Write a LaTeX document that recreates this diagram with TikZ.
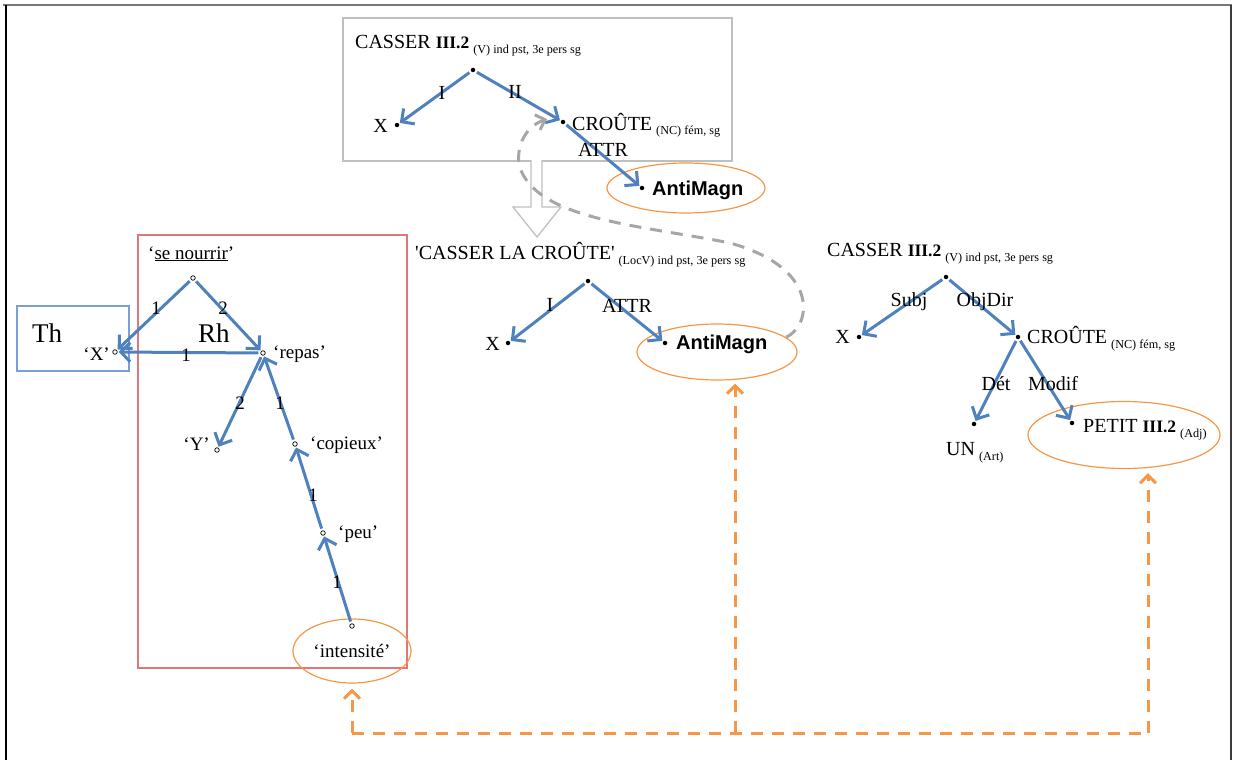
\documentclass[tikz,border=0pt]{standalone}
\usepackage{fontspec}
\setmainfont{Liberation Serif}
\newfontfamily\antisans{Liberation Sans}
\usetikzlibrary{arrows.meta,shapes.geometric}
\definecolor{arrblue}{RGB}{79,129,189}
\definecolor{ornge}{RGB}{247,150,70}
\definecolor{grdash}{RGB}{166,166,166}
\definecolor{boxgray}{RGB}{191,191,191}
\definecolor{thblue}{RGB}{120,160,215}
\definecolor{rhred}{RGB}{222,120,120}
\newcommand\mysub[1]{\hspace{4pt}\raisebox{-5pt}{\fontsize{12.2}{13}\selectfont #1}}
\newcommand\rom[1]{{\fontsize{17.5}{20}\selectfont\bfseries #1}}
\begin{document}
\begin{tikzpicture}[x=1pt,y=-1pt,
 every node/.style={font=\fontsize{20}{24}\selectfont, inner sep=0pt},
 txt/.style={anchor=base west},
 txte/.style={anchor=base east},
 lbl/.style={anchor=center},
 lft/.style={font=\fontsize{19}{22}\selectfont},
 big/.style={font=\fontsize{27}{30}\selectfont},
 sansb/.style={font=\antisans\bfseries\fontsize{20}{24}\selectfont},
 dotn/.style={circle,fill=black,minimum size=4.5pt,inner sep=0pt},
 odot/.style={circle,draw=black,line width=0.7pt,minimum size=4.5pt,inner sep=0pt,fill=white},
 barrow/.style={draw=arrblue,line width=3pt,-{Straight Barb[length=9.5pt,width=19pt]},shorten <=2pt,shorten >=1pt},
 oell/.style={ellipse,draw=ornge,line width=1.2pt},
 odash/.style={draw=ornge,line width=3pt,dash pattern=on 12pt off 9pt},
 gdash/.style={draw=grdash,line width=3pt,dash pattern=on 12pt off 9pt},
 otip/.style={-{Straight Barb[length=8pt,width=16pt]}},
]
\useasboundingbox (0,0) rectangle (1235,760);
% outer frame
\draw[draw={rgb,255:red,120;green,120;blue,120},line width=2pt] (3,5) -- (1232,5);
\draw[draw=black,line width=2pt] (6,5) -- (6,760);
\draw[draw={rgb,255:red,60;green,60;blue,60},line width=2pt] (1231,5) -- (1231,760);

% ---------- top tree ----------
\draw[boxgray,line width=1.5pt] (343,18) rectangle (732,161);
% hollow arrow
\fill[white] (531.5,156) rectangle (541.5,165);
\draw[boxgray,line width=1.3pt,fill=white] (531,160) -- (531,207) -- (513,207) -- (537,237) -- (561,207) -- (542,207) -- (542,160);

\node[dotn] (t0) at (473,70) {};
\node[dotn] (tx) at (397,125) {};
\node[dotn] (tc) at (563,122) {};
\node[dotn] (ta) at (642,188) {};
\node[txt] (tcasser) at (355,49) {CASSER \rom{III.2}\mysub{(V) ind pst, 3e pers sg}};
\node[txte] (txl) at (388,132) {X};
\node[txt] (tcl) at (572,130) {CROÛTE\mysub{(NC) fém, sg}};
\node[oell,minimum width=158pt,minimum height=50pt] (tell) at (686,188) {};
\node[txt,sansb] (tal) at (652,195) {AntiMagn};
\draw[barrow] (t0) -- (tx);
\draw[barrow] (t0) -- (tc);
\draw[barrow] (tc) -- (ta);
\node[lbl] (tlI) at (442,93) {I};
\node[lbl] (tlII) at (515,92) {II};
\node[lbl] (tlA) at (603,150) {ATTR};

% ---------- middle tree ----------
\node[dotn] (m0) at (588,281) {};
\node[dotn] (mx) at (508,343) {};
\node[dotn] (ma) at (665,343) {};
\node[txt] (mcasser) at (415,259) {\textquotesingle CASSER LA CROÛTE\textquotesingle\mysub{(LocV) ind pst, 3e pers sg}};
\node[txte] (mxl) at (500,350) {X};
\node[oell,minimum width=160pt,minimum height=56pt] (mell) at (717,352) {};
\node[txt,sansb] (mal) at (676,349) {AntiMagn};
\draw[barrow] (m0) -- (mx);
\draw[barrow] (m0) -- (ma);
\node[lbl] (mlI) at (550,305) {I};
\node[lbl] (mlA) at (627,306) {ATTR};

% gray dashed curved arrow
\coordinate (gtip) at (547,119);
\draw[gdash,otip] (mell.12) .. controls (812,325) and (820,268) .. (730,243) .. controls (640,225) and (535,220) .. (519,165) .. controls (516,140) and (530,125) .. (gtip);

% ---------- right tree ----------
\node[dotn] (r0) at (946,277) {};
\node[dotn] (rx) at (859,337) {};
\node[dotn] (rc) at (1018,337) {};
\node[dotn] (ru) at (974,424) {};
\node[dotn] (rp) at (1072,423) {};
\node[txt] (rcasser) at (827,256) {CASSER \rom{III.2}\mysub{(V) ind pst, 3e pers sg}};
\node[txte] (rxl) at (850,343) {X};
\node[txt] (rcl) at (1027,343) {CROÛTE\mysub{(NC) fém, sg}};
\node[txt] (rul) at (946,455) {UN\mysub{(Art)}};
\node[txt] (rpl) at (1083,432) {PETIT \rom{III.2}\mysub{(Adj)}};
\node[oell,minimum width=192pt,minimum height=67pt] (rell) at (1124,435) {};
\draw[barrow] (r0) -- (rx);
\draw[barrow] (r0) -- (rc);
\draw[barrow] (rc) -- (ru);
\draw[barrow] (rc) -- (rp);
\node[lbl] (rlS) at (909,302) {Subj};
\node[lbl] (rlO) at (985,302) {ObjDir};
\node[lbl] (rlD) at (996,384) {Dét};
\node[lbl] (rlM) at (1053,384) {Modif};

% ---------- left semantic graph ----------
\draw[thblue,line width=1.3pt] (17,306) rectangle (129,371);
\draw[rhred,line width=1.3pt] (138,235) rectangle (407,668);
\node[txt,big] (th) at (32,342) {Th};
\node[txt,big] (rh) at (198,342) {Rh};
\node[odot] (lx) at (115,352) {};
\node[odot] (ls) at (193,278) {};
\node[odot] (lr) at (263,353) {};
\node[odot] (ly) at (217,450) {};
\node[odot] (lc) at (295,444) {};
\node[odot] (lp) at (323,533) {};
\node[odot] (li) at (352,626) {};
\node[txte,lft] (lxl) at (110,360) {‘X’};
\node[txt,lft] (lsl) at (148,259) {‘\underline{se nourrir}’};
\node[txt,lft] (lrl) at (273,358) {‘repas’};
\node[txte,lft] (lyl) at (210,450) {‘Y’};
\node[txt,lft] (lcl) at (310,449) {‘copieux’};
\node[txt,lft] (lpl) at (338,538) {‘peu’};
\node[anchor=base,lft] (lil) at (352,657) {‘intensité’};
\node[oell,minimum width=118pt,minimum height=64pt] (lell) at (352,651) {};
\draw[barrow] (ls) -- (lx);
\draw[barrow] (ls) -- (lr);
\draw[barrow] (lr) -- (lx);
\draw[barrow] (lr) -- (ly);
\draw[barrow] (lc) -- (lr);
\draw[barrow] (lp) -- (lc);
\draw[barrow] (li) -- (lp);
\node[lbl,lft] (l1) at (156,308) {1};
\node[lbl,lft] (l2) at (223,308) {2};
\node[lbl,lft] (l3) at (186,355) {1};
\node[lbl,lft] (l4) at (240,403) {2};
\node[lbl,lft] (l5) at (280,403) {1};
\node[lbl,lft] (l6) at (313,495) {1};
\node[lbl,lft] (l7) at (337,582) {1};

% ---------- orange dashed links ----------
\coordinate (ol) at (352,733);
\coordinate (om) at (735,733);
\coordinate (or) at (1148,733);
\draw[odash] (ol) -- (or);
\draw[odash,otip,shorten >=5pt] (ol) -- (lell.south);
\draw[odash,otip,shorten >=3pt] (om) -- (om |- mell.south);
\draw[odash,otip,shorten >=4pt] (or) -- (or |- rell.south);
\end{tikzpicture}
\end{document}
